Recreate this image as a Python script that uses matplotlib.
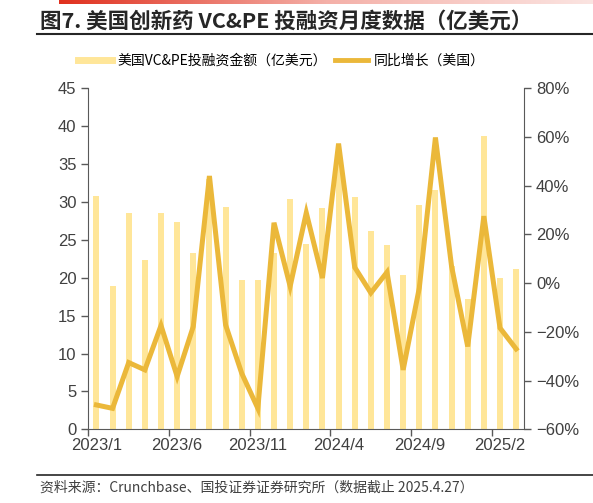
import numpy as np
import pandas as pd
from matplotlib import pyplot as plt
from matplotlib.lines import Line2D
from matplotlib.colors import LinearSegmentedColormap

plt.rcParams['font.family'] = ['Liberation Sans', 'Noto Sans CJK SC', 'DejaVu Sans']

# monthly data 2023/1 - 2025/3
months = [d.strftime('%Y/%-m') for d in pd.date_range('2023-01-01', '2025-03-01', freq='MS')]
funding = [30.8, 18.9, 28.6, 22.3, 28.6, 27.4, 23.3, 33.0, 29.4, 19.7, 19.7, 23.3, 30.4,
           24.4, 29.2, 36.0, 30.6, 26.2, 24.3, 20.4, 29.6, 31.6, 21.5, 17.2, 38.7, 19.9, 21.1]
yoy = [-50.0, -51.4, -32.6, -35.6, -17.4, -38.3, -17.8, 44.0, -17.1, -37.0, -51.4, 24.8, -1.3,
       28.9, 2.1, 57.3, 6.5, -4.0, 4.5, -35.6, -2.0, 59.8, 6.9, -26.0, 27.5, -18.4, -27.0]

bar_color = '#FFE699'
line_color = '#EBB83A'
axis_color = '#595959'
text_color = '#404040'

fig = plt.figure(figsize=(5.93, 5.03), dpi=100)
ax = fig.add_axes([0.149, 0.1465, 0.735, 0.678])
ax2 = ax.twinx()

x = np.arange(len(months))
ax.bar(x, funding, width=0.38, color=bar_color, zorder=2)
ax2.plot(x, yoy, color=line_color, linewidth=3.6, solid_joinstyle='miter', zorder=3)

ax.set_xlim(-0.5, len(months) - 0.5)
ax.set_ylim(0, 45)
ax.set_yticks(np.arange(0, 46, 5))
ax2.set_ylim(-60, 80)
ax2.set_yticks(np.arange(-60, 81, 20))
ax2.set_yticklabels([f'{v}%' if v >= 0 else f'\u2212{-v}%' for v in range(-60, 81, 20)])

ax.set_xticks(x[::5])
ax.set_xticklabels(months[::5])
ax.set_xticks(np.arange(-0.5, len(months), 5), minor=True)
ax.tick_params(axis='x', which='major', length=0, pad=6, labelsize=12, colors=text_color)
ax.tick_params(axis='x', which='minor', length=5, width=1, color=axis_color)
ax.tick_params(axis='y', length=5, width=1, color=axis_color, labelsize=12, labelcolor=text_color)
ax2.tick_params(axis='y', length=5, width=1, color=axis_color, labelsize=12, labelcolor=text_color)

for a in (ax, ax2):
    a.spines['top'].set_visible(False)
    a.spines['left'].set_color(axis_color)
    a.spines['right'].set_color(axis_color)
    a.spines['bottom'].set_color(axis_color)
ax.spines['right'].set_visible(False)
ax2.spines['left'].set_visible(False)
ax2.spines['bottom'].set_visible(False)
ax.set_zorder(ax2.get_zorder() - 1)
ax2.patch.set_visible(False)

# legend
handles = [Line2D([0], [0], color=bar_color, linewidth=5),
           Line2D([0], [0], color=line_color, linewidth=3.5)]
fig.legend(handles, ['美国VC&PE投融资金额（亿美元）', '同比增长（美国）'],
           loc='center', bbox_to_anchor=(0.475, 0.879), ncol=2, frameon=False,
           handlelength=2.4, handletextpad=0.4, columnspacing=0.6,
           prop={'family': ['Noto Sans CJK SC'], 'size': 10})

# header: red gradient bar, title and rule
grad_ax = fig.add_axes([59 / 593, 1 - 4 / 503, 1 - 59 / 593, 4 / 503])
grad = np.linspace(0, 1, 256).reshape(1, -1)
cmap = LinearSegmentedColormap.from_list('hdr', ['#E0301E', '#F4B0A8', '#FBE4E1'])
grad_ax.imshow(grad, aspect='auto', cmap=cmap)
grad_ax.axis('off')

fig.text(40 / 593, 1 - 21 / 503, '图7. 美国创新药 VC&PE 投融资月度数据（亿美元）',
         family=['Noto Sans CJK SC'], fontsize=15.5, fontweight='bold',
         color='#262626', va='center', ha='left')
fig.add_artist(Line2D([37 / 593, 1], [1 - 34 / 503, 1 - 34 / 503], color='#262626', linewidth=1.5))

# footer
fig.add_artist(Line2D([37 / 593, 1], [1 - 475 / 503, 1 - 475 / 503], color='#262626', linewidth=1.2))
fig.text(40 / 593, 1 - 488 / 503, '资料来源：Crunchbase、国投证券证券研究所（数据截止 2025.4.27）',
         family=['Noto Sans CJK SC'], fontsize=10, style='italic', color='#404040',
         va='center', ha='left')

plt.savefig('out.png', dpi=100)
